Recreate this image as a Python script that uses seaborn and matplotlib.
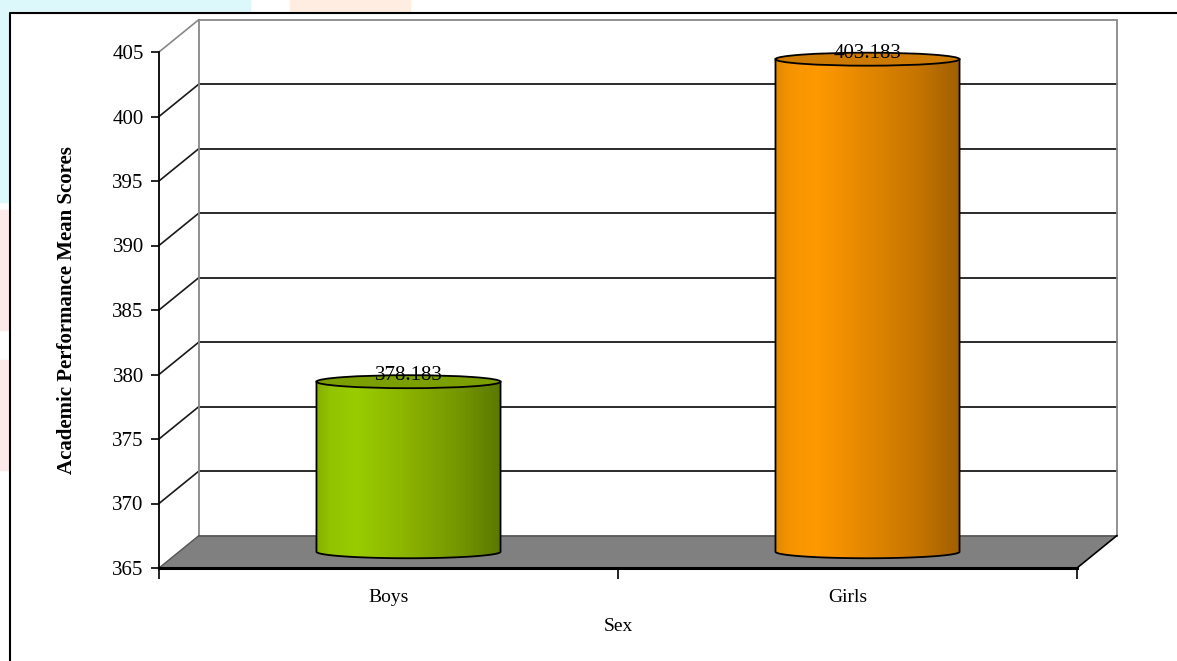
import numpy as np
import pandas as pd
import matplotlib
matplotlib.use("Agg")
import matplotlib.pyplot as plt
import seaborn as sns
from matplotlib.transforms import ScaledTranslation, IdentityTransform
from matplotlib.patches import Polygon, Ellipse, PathPatch, Rectangle
from matplotlib.path import Path
from matplotlib.lines import Line2D
from matplotlib.colors import LinearSegmentedColormap

# ---- data ----
categories = ["Boys", "Girls"]
values = [378.183, 403.183]
value_labels = ["378.183", "403.183"]
y_ticks = [365, 370, 375, 380, 385, 390, 395, 400, 405]
x_title = "Sex"
y_title = "Academic Performance Mean Scores"

# ---- styles ----
bar_colors = ["#99CC00", "#FF9900"]
top_colors = ["#7C9F00", "#CC7B00"]
grad_stops = [
    ["#86AE00", "#93C400", "#99CC00", "#8AB200", "#739600", "#5A7800"],
    ["#E08800", "#F59400", "#FF9900", "#E38700", "#C47400", "#A05F00"],
]
grad_pos = [0.0, 0.08, 0.22, 0.5, 0.78, 1.0]

sns.set_theme(style="white")
plt.rcParams["font.family"] = ["Liberation Serif", "DejaVu Serif"]

W, H, DPI = 1177, 661, 100
fig = plt.figure(figsize=(W / DPI, H / DPI), dpi=DPI)
fig.patch.set_facecolor("white")

# faint page watermark shapes
for (x0, y0, w, h, c) in [(0, 0, 250, 12, "#DDF8FA"), (290, 0, 120, 12, "#FEEDE0"),
                          (0, 12, 9, 190, "#DDF8FA"), (0, 210, 9, 120, "#FCE9E9"),
                          (0, 360, 9, 110, "#FCE9E9")]:
    fig.patches.append(Rectangle((x0 / W, 1 - (y0 + h) / H), w / W, h / H,
                                 transform=fig.transFigure, color=c, zorder=0))

# outer border (left and top visible)
fig.lines.append(Line2D([9.5 / W, 9.5 / W, 1.0], [0, 1 - 12.5 / H, 1 - 12.5 / H],
                        transform=fig.transFigure, color="black", lw=1.5))

ax = fig.add_axes([159 / W, (H - 568) / H, 918 / W, 516 / H])
ax.set_facecolor("none")

df = pd.DataFrame({"Sex": categories, "Score": values})
sns.barplot(data=df, x="Sex", y="Score", hue="Sex", palette=bar_colors,
            width=0.401, saturation=1, legend=False, ax=ax)
ax.set_xlim(-0.5, 1.5)
ax.set_ylim(365, 405)
ax.set_yticks(y_ticks)

ident = IdentityTransform()
mid = ax.transData + ScaledTranslation(0.20, 0.1625, fig.dpi_scale_trans)


def P(x, y, depth):
    px, py = ax.transData.transform((x, y))
    return (px + depth * 40, py + depth * 32.5)


x_lo, x_hi = ax.get_xlim()
y_lo, y_hi = ax.get_ylim()

# floor
floor = Polygon([P(x_lo, y_lo, 0), P(x_lo, y_lo, 1), P(x_hi, y_lo, 1), P(x_hi, y_lo, 0)],
                closed=True, transform=ident, facecolor="#808080", edgecolor="none",
                zorder=1, clip_on=False)
ax.add_patch(floor)
ax.add_line(Line2D(*zip(P(x_lo, y_lo, 1), P(x_hi, y_lo, 1)), transform=ident,
                   color="#555555", lw=1.2, zorder=1.5, clip_on=False))
ax.add_line(Line2D(*zip(P(x_hi, y_lo, 0), P(x_hi, y_lo, 1)), transform=ident,
                   color="black", lw=1.2, zorder=1.5, clip_on=False))
ax.add_line(Line2D(*zip(P(x_lo, y_lo, 0), P(x_lo, y_lo, 1)), transform=ident,
                   color="#555555", lw=1.0, zorder=1.5, clip_on=False))

# back wall gridlines and left wall diagonals
for v in y_ticks[1:]:
    col = "#888888" if v == y_hi else "#1a1a1a"
    ax.add_line(Line2D(*zip(P(x_lo, v, 1), P(x_hi, v, 1)), transform=ident,
                       color=col, lw=1.3, zorder=1.2, clip_on=False))
    ax.add_line(Line2D(*zip(P(x_lo, v, 0), P(x_lo, v, 1)), transform=ident,
                       color=col, lw=1.2, zorder=1.2, clip_on=False))
# wall verticals
ax.add_line(Line2D(*zip(P(x_lo, y_lo, 1), P(x_lo, y_hi, 1)), transform=ident,
                   color="#888888", lw=1.3, zorder=1.2, clip_on=False))
ax.add_line(Line2D(*zip(P(x_hi, y_lo, 1), P(x_hi, y_hi, 1)), transform=ident,
                   color="#888888", lw=1.3, zorder=1.2, clip_on=False))

# cylinders from seaborn's bars
ell_h = 13.0  # px
bars = [p for p in ax.patches if isinstance(p, Rectangle)]
for i, p in enumerate(bars):
    x0, w = p.get_x(), p.get_width()
    val = p.get_height()
    p.set_visible(False)
    L0 = P(x0, y_lo, 0.5); R0 = P(x0 + w, y_lo, 0.5)
    L1 = P(x0, val, 0.5); R1 = P(x0 + w, val, 0.5)
    cxb = (L0[0] + R0[0]) / 2
    a = (R0[0] - L0[0]) / 2
    b = ell_h / 2
    t = np.linspace(np.pi, 2 * np.pi, 60)
    bottom = np.column_stack([cxb + a * np.cos(t), L0[1] + b * np.sin(t)])
    verts = [L1] + [L0] + list(map(tuple, bottom)) + [R0, R1, L1]
    path = Path(verts, closed=True)
    cmap = LinearSegmentedColormap.from_list("g%d" % i, list(zip(grad_pos, grad_stops[i])))
    grad = np.linspace(0, 1, 256)[None, :]
    im = ax.imshow(cmap(grad), extent=[x0, x0 + w, y_lo - 1.0, val], transform=mid,
                   aspect="auto", zorder=3, interpolation="bilinear")
    body = PathPatch(path, transform=ident, facecolor="none", edgecolor="black",
                     lw=1.3, zorder=3.2, clip_on=False)
    ax.add_patch(body)
    im.set_clip_path(body)
    top = Ellipse(((L1[0] + R1[0]) / 2, L1[1]), 2 * a, ell_h, transform=ident,
                  facecolor=top_colors[i], edgecolor="black", lw=1.3, zorder=3.4,
                  clip_on=False)
    ax.add_patch(top)
    tx, ty = (L1[0] + R1[0]) / 2, L1[1] + 1.5
    ax.text(tx, ty, value_labels[i], transform=ident, ha="center", va="baseline",
            fontsize=15, color="black", zorder=5, clip_on=False)

ax.set_xlim(x_lo, x_hi)
ax.set_ylim(y_lo, y_hi)

# axes styling
for s in ["top", "right"]:
    ax.spines[s].set_visible(False)
ax.spines["left"].set_color("black")
ax.spines["left"].set_linewidth(1.3)
ax.spines["bottom"].set_color("black")
ax.spines["bottom"].set_linewidth(2.2)
ax.spines["left"].set_zorder(4)
ax.spines["bottom"].set_zorder(4)

ax.tick_params(axis="y", which="major", direction="out", length=6, width=1.2,
               color="black", labelsize=15, pad=5, left=True)
ax.set_xticks([0, 1])
ax.set_xticklabels(categories)
ax.set_xticks([x_lo, 0.5, x_hi], minor=True)
ax.tick_params(axis="x", which="major", length=0, labelsize=14, pad=15)
ax.tick_params(axis="x", which="minor", direction="out", length=8, width=1.2,
               color="black", bottom=True)
for lab in ax.get_yticklabels() + ax.get_xticklabels():
    lab.set_color("black")

ax.set_xlabel(x_title, fontsize=14, color="black", labelpad=9)
ax.set_ylabel(y_title, fontsize=15, fontweight="bold", color="black", labelpad=25)
ax.grid(False)

fig.savefig("out.png", dpi=DPI, facecolor="white")
